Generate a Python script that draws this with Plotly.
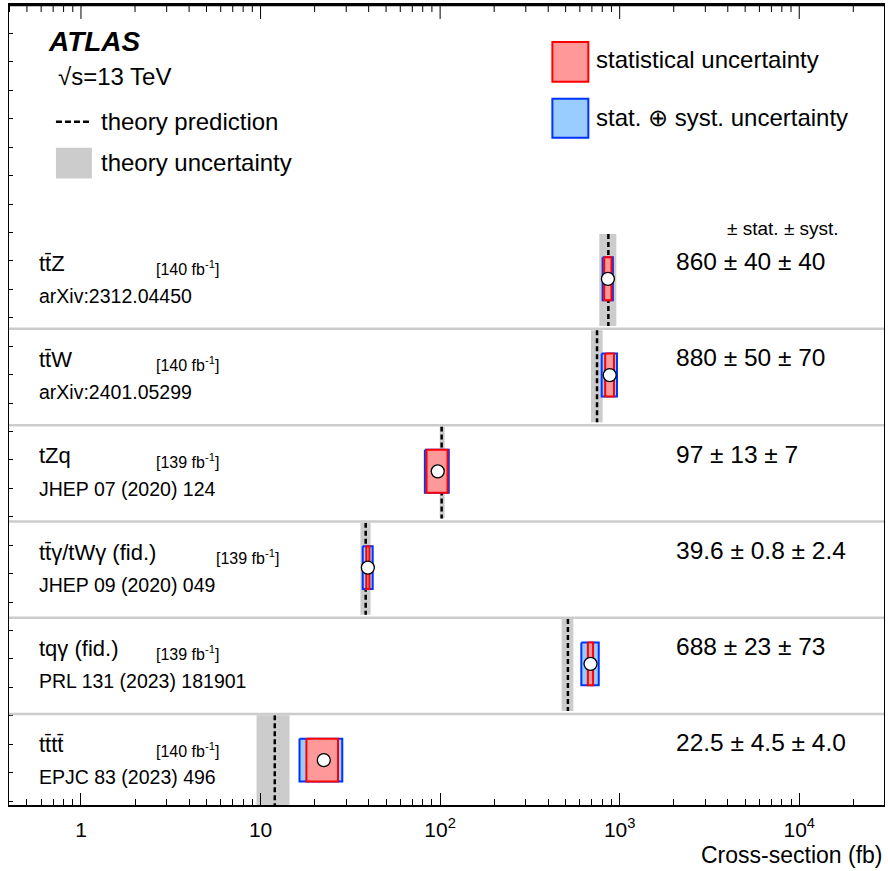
import math
import plotly.graph_objects as go

# ---------------- data ----------------
processes = ["tt\u0304Z", "tt\u0304W", "tZq", "tt\u0304\u03b3/tW\u03b3 (fid.)", "tq\u03b3 (fid.)", "tt\u0304tt\u0304"]
references = ["arXiv:2312.04450", "arXiv:2401.05299", "JHEP 07 (2020) 124",
              "JHEP 09 (2020) 049", "PRL 131 (2023) 181901", "EPJC 83 (2023) 496"]
lumis = ["140", "140", "139", "139", "139", "140"]
measured = [860, 880, 97, 39.6, 688, 22.5]
stat_unc = [40, 50, 13, 0.8, 23, 4.5]
syst_unc = [40, 70, 7, 2.4, 73, 4.0]
decimals = [0, 0, 0, 1, 0, 1]
theory = [865, 748, 102, 38.5, 515, 12.0]
theory_lo = [770, 692, 99.5, 36.0, 475, 9.5]
theory_hi = [958, 804, 106, 41.0, 552, 14.5]
tick_values = [1, 10, 100, 1000, 10000]
tick_labels = ["1", "10", "10<sup>2</sup>", "10<sup>3</sup>", "10<sup>4</sup>"]
minor_values = [m * 10 ** d for d in range(-1, 5) for m in range(2, 10)]

FONT = "Liberation Sans, Arial, sans-serif"
RED_FILL, RED_LINE = "#ff9999", "#ff0000"
BLUE_FILL, BLUE_LINE = "#99ccff", "#0033ff"
GREY = "#cccccc"

# figure geometry (pixels)
W, H = 888, 871
PX_L, PX_R, PX_T, PX_B = 9, 885, 3, 805
ROW0, PITCH = 277.5, 96.5
y_top = (PX_T - ROW0) / PITCH
y_bot = (PX_B - ROW0) / PITCH
X_MIN, X_MAX = 0.3973, 29650
X_RANGE = [math.log10(X_MIN), math.log10(X_MAX)]


def xp(px):
    return (px - PX_L) / (PX_R - PX_L)


def yp(py):
    return (PX_B - py) / (PX_B - PX_T)


def x_paper(v):
    # position of a value on the log x axis, as a fraction of the axis range
    return (math.log10(v) - X_RANGE[0]) / (X_RANGE[1] - X_RANGE[0])


fig = go.Figure()
n = len(processes)
for i in range(n):
    g0, g1 = i - 0.465, i + 0.49
    fig.add_trace(go.Scatter(
        x=[theory_lo[i], theory_hi[i], theory_hi[i], theory_lo[i], theory_lo[i]],
        y=[g0, g0, g1, g1, g0], mode="lines", fill="toself", fillcolor=GREY,
        line=dict(width=0), hoverinfo="skip"))
    fig.add_trace(go.Scatter(
        x=[theory[i], theory[i]], y=[g0, g1], mode="lines",
        line=dict(color="black", width=2.5, dash="5px,3px"), hoverinfo="skip"))
    tot = math.sqrt(stat_unc[i] ** 2 + syst_unc[i] ** 2)
    b0, b1 = i - 0.223, i + 0.223
    lo, hi = measured[i] - tot, measured[i] + tot
    fig.add_trace(go.Scatter(
        x=[lo, hi, hi, lo, lo], y=[b0, b0, b1, b1, b0], mode="lines", fill="toself",
        fillcolor=BLUE_FILL, line=dict(color=BLUE_LINE, width=2), hoverinfo="skip"))
    lo, hi = measured[i] - stat_unc[i], measured[i] + stat_unc[i]
    fig.add_trace(go.Scatter(
        x=[lo, hi, hi, lo, lo], y=[b0, b0, b1, b1, b0], mode="lines", fill="toself",
        fillcolor=RED_FILL, line=dict(color=RED_LINE, width=2), hoverinfo="skip"))
    fig.add_trace(go.Scatter(
        x=[measured[i]], y=[i], mode="markers",
        marker=dict(size=13, color="white", line=dict(color="black", width=1.3))))

shapes = []
for i in range(n - 1):
    shapes.append(dict(type="line", xref="paper", yref="y", x0=0, x1=1, y0=i + 0.52, y1=i + 0.52,
                       line=dict(color=GREY, width=2.5)))
# top frame line and mirrored ticks (paper coordinates derived from the axis range)
shapes.append(dict(type="line", xref="paper", yref="paper", x0=xp(PX_L), x1=xp(PX_R),
                   y0=yp(PX_T + 0.5), y1=yp(PX_T + 0.5), line=dict(color="black", width=1.5), layer="above"))
for v in tick_values:
    shapes.append(dict(type="line", xref="paper", yref="paper", x0=x_paper(v), x1=x_paper(v),
                       y0=yp(PX_T), y1=yp(PX_T + 14), line=dict(color="black", width=1), layer="above"))
for v in minor_values:
    if X_MIN < v < X_MAX:
        shapes.append(dict(type="line", xref="paper", yref="paper", x0=x_paper(v), x1=x_paper(v),
                           y0=yp(PX_T), y1=yp(PX_T + 7), line=dict(color="black", width=1), layer="above"))
# legend graphics
shapes.append(dict(type="line", xref="paper", yref="paper", x0=xp(56), x1=xp(92), y0=yp(120), y1=yp(120),
                   line=dict(color="black", width=2.5, dash="6px,3px")))
shapes.append(dict(type="rect", xref="paper", yref="paper", x0=xp(56), x1=xp(92), y0=yp(177), y1=yp(146),
                   fillcolor=GREY, line=dict(width=0)))
shapes.append(dict(type="rect", xref="paper", yref="paper", x0=xp(553), x1=xp(589), y0=yp(80), y1=yp(40),
                   fillcolor=RED_FILL, line=dict(color=RED_LINE, width=2)))
shapes.append(dict(type="rect", xref="paper", yref="paper", x0=xp(553), x1=xp(589), y0=yp(136), y1=yp(97),
                   fillcolor=BLUE_FILL, line=dict(color=BLUE_LINE, width=2)))

ann = []


def txt(text, px, py, size, anchor="left", **kw):
    ann.append(dict(text=text, x=xp(px), y=yp(py), xref="paper", yref="paper", xanchor=anchor,
                    yanchor="middle", showarrow=False, font=dict(family=FONT, size=size, color="black"), **kw))


txt("<b><i>ATLAS</i></b>", 46, 40, 28)
txt("\u221as=13 TeV", 56, 75, 24)
txt("theory prediction", 99, 120, 24)
txt("theory uncertainty", 99, 161, 24)
txt("statistical uncertainty", 595, 58, 24)
txt("stat. \u2295 syst. uncertainty", 595, 116, 24)
txt("\u00b1 stat. \u00b1 syst.", 726, 227, 19)
txt("Cross-section (fb)", 885, 855, 23, anchor="right")

for i in range(n):
    ann.append(dict(text=processes[i], x=xp(37), y=i - 0.16, xref="paper", yref="y", xanchor="left",
                    yanchor="middle", showarrow=False, font=dict(family=FONT, size=22, color="black")))
    ann.append(dict(text=references[i], x=xp(37), y=i + 0.18, xref="paper", yref="y", xanchor="left",
                    yanchor="middle", showarrow=False, font=dict(family=FONT, size=19.5, color="black")))
    lx = 214 if len(processes[i]) > 12 else 154
    ann.append(dict(text="[" + lumis[i] + " fb<sup>-1</sup>]", x=xp(lx), y=i - 0.11, xref="paper", yref="y",
                    xanchor="left", yanchor="middle", showarrow=False,
                    font=dict(family=FONT, size=16, color="black")))
    d = decimals[i]
    vt = f"{measured[i]:.{d}f} \u00b1 {stat_unc[i]:.{d}f} \u00b1 {syst_unc[i]:.{d}f}"
    ann.append(dict(text=vt, x=xp(675), y=i - 0.18, xref="paper", yref="y", xanchor="left",
                    yanchor="middle", showarrow=False, font=dict(family=FONT, size=24.5, color="black")))

fig.update_layout(
    width=W, height=H, showlegend=False,
    margin=dict(l=PX_L, r=W - PX_R, t=PX_T, b=H - PX_B, pad=0),
    paper_bgcolor="white", plot_bgcolor="white",
    shapes=shapes, annotations=ann,
    font=dict(family=FONT, color="black"),
    xaxis=dict(type="log", range=X_RANGE, tickmode="array", tickvals=tick_values, ticktext=tick_labels,
               ticks="inside", ticklen=12, tickwidth=1, tickcolor="black",
               minor=dict(tickmode="array", tickvals=minor_values, ticks="inside", ticklen=6,
                          tickwidth=1, tickcolor="black", showgrid=False),
               showline=True, linecolor="black", linewidth=1.5, mirror=True,
               showgrid=False, zeroline=False,
               tickfont=dict(family=FONT, size=21, color="black"), ticklabelstandoff=5),
    yaxis=dict(range=[y_bot, y_top], showticklabels=False, ticks="inside", ticklen=4,
               tickcolor="black", tickmode="linear", tick0=y_top, dtick=28.5 / PITCH,
               showline=True, linecolor="black", linewidth=1.2, mirror=True,
               showgrid=False, zeroline=False),
)

fig.write_html("out.html", config={"displayModeBar": False},
               post_script="document.body.style.margin='0px';document.body.style.overflow='hidden';")
